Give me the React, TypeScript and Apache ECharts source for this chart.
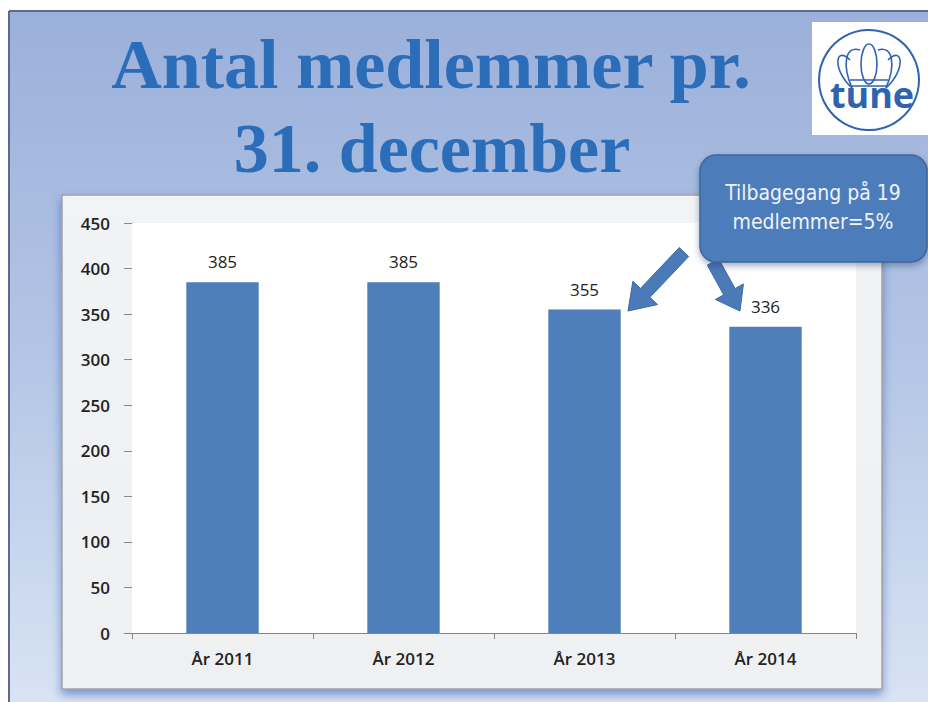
import React, { useEffect, useRef } from "react";
import * as echarts from "echarts";

const categories = ["År 2011", "År 2012", "År 2013", "År 2014"];
const members = [385, 385, 355, 336];
const yMin = 0;
const yMax = 450;
const yStep = 50;
const titleLines = ["Antal medlemmer pr.", "31. december"];
const calloutLines = ["Tilbagegang på 19", "medlemmer=5%"];

function arrowPoints(tx: number, ty: number, hx: number, hy: number, sw: number, hw: number, hl: number) {
  const dx = hx - tx, dy = hy - ty;
  const L = Math.sqrt(dx * dx + dy * dy);
  const ux = dx / L, uy = dy / L;
  const nx = -uy, ny = ux;
  const bx = hx - ux * hl, by = hy - uy * hl;
  return [
    [tx + nx * sw / 2, ty + ny * sw / 2],
    [bx + nx * sw / 2, by + ny * sw / 2],
    [bx + nx * hw / 2, by + ny * hw / 2],
    [hx, hy],
    [bx - nx * hw / 2, by - ny * hw / 2],
    [bx - nx * sw / 2, by - ny * sw / 2],
    [tx - nx * sw / 2, ty - ny * sw / 2],
  ];
}

export default function App() {
  const ref = useRef<HTMLDivElement>(null);
  useEffect(() => {
    document.body.style.margin = "0";
    const chart = echarts.init(ref.current!, undefined, { renderer: "svg" });
    const blue = "#2b6db8";
    const logoBlue = "#2f63b0";
    const axisFont = "'Open Sans', 'DejaVu Sans', sans-serif";
    const calloutFont = "'DejaVu Sans Condensed', 'DejaVu Sans', sans-serif";
    const titleFont = "bold 70px 'Liberation Serif', 'Times New Roman', serif";
    chart.setOption({
      animation: false,
      backgroundColor: "#ffffff",
      grid: {
        left: 132,
        right: 72,
        top: 223,
        bottom: 69,
        show: true,
        backgroundColor: "#ffffff",
        borderWidth: 0,
        z: 1,
      },
      xAxis: {
        type: "category",
        data: categories,
        axisLine: { lineStyle: { color: "#868686", width: 1 } },
        axisTick: { show: true, length: 6, lineStyle: { color: "#868686" } },
        axisLabel: { color: "#222222", fontSize: 17, fontWeight: 600, fontFamily: axisFont, margin: 17 },
      },
      yAxis: {
        type: "value",
        min: yMin,
        max: yMax,
        interval: yStep,
        axisLine: { show: true, lineStyle: { color: "#868686", width: 1 } },
        axisTick: { show: true, length: 8, lineStyle: { color: "#868686" } },
        splitLine: { lineStyle: { color: "#868686", width: 1 } },
        axisLabel: { color: "#222222", fontSize: 17, fontWeight: 600, fontFamily: axisFont, margin: 22 },
      },
      series: [
        {
          type: "bar",
          data: members,
          barWidth: "40%",
          itemStyle: { color: "#4f7fbb" },
          label: {
            show: true,
            position: "top",
            distance: 12,
            color: "#222222",
            fontSize: 17,
            fontFamily: axisFont,
          },
          z: 3,
        },
      ],
      graphic: [
        {
          type: "rect",
          z: -20,
          silent: true,
          shape: { x: 9, y: 11, width: 930, height: 700 },
          style: {
            fill: new echarts.graphic.LinearGradient(0, 0, 0, 1, [
              { offset: 0, color: "#9bb0da" },
              { offset: 0.5, color: "#b4c6e6" },
              { offset: 1, color: "#d9e4f4" },
            ]),
          },
        },
        { type: "line", z: -19, shape: { x1: 9, y1: 11, x2: 928, y2: 11 }, style: { stroke: "#5d6b88", lineWidth: 2 } },
        { type: "line", z: -19, shape: { x1: 9, y1: 11, x2: 9, y2: 702 }, style: { stroke: "#5d6b88", lineWidth: 2 } },
        {
          type: "rect",
          z: -15,
          shape: { x: 62, y: 195, width: 820, height: 494 },
          style: {
            fill: new echarts.graphic.LinearGradient(0, 0, 0, 1, [
              { offset: 0, color: "#f2f3f5" },
              { offset: 1, color: "#eef0f2" },
            ]),
            stroke: "#a3a3a3",
            lineWidth: 1.5,
            shadowBlur: 10,
            shadowOffsetY: 5,
            shadowColor: "rgba(40,80,170,0.55)",
          },
        },
        {
          type: "text",
          z: 10,
          style: {
            text: titleLines[0],
            x: 431,
            y: 64,
            align: "center",
            verticalAlign: "middle",
            fill: blue,
            font: titleFont,
          },
        },
        {
          type: "text",
          z: 10,
          style: {
            text: titleLines[1],
            x: 432,
            y: 148,
            align: "center",
            verticalAlign: "middle",
            fill: blue,
            font: titleFont,
          },
        },
        // logo
        {
          type: "group",
          z: 10,
          children: [
            { type: "rect", shape: { x: 812, y: 22, width: 120, height: 113 }, style: { fill: "#ffffff" } },
            { type: "circle", shape: { cx: 869, cy: 80, r: 50 }, style: { fill: "none", stroke: logoBlue, lineWidth: 2 } },
            { type: "bezierCurve", shape: { x1: 852, y1: 88, x2: 850, y2: 60, cpx1: 832, cpy1: 70, cpx2: 835, cpy2: 45 }, style: { stroke: logoBlue, lineWidth: 1.6, fill: "none" } },
            { type: "bezierCurve", shape: { x1: 852, y1: 88, x2: 860, y2: 50, cpx1: 842, cpy1: 65, cpx2: 845, cpy2: 45 }, style: { stroke: logoBlue, lineWidth: 1.6, fill: "none" } },
            { type: "ellipse", shape: { cx: 869, cy: 64, rx: 8, ry: 20 }, style: { stroke: logoBlue, lineWidth: 1.6, fill: "none" } },
            { type: "bezierCurve", shape: { x1: 886, y1: 88, x2: 888, y2: 60, cpx1: 906, cpy1: 70, cpx2: 903, cpy2: 45 }, style: { stroke: logoBlue, lineWidth: 1.6, fill: "none" } },
            { type: "bezierCurve", shape: { x1: 886, y1: 88, x2: 878, y2: 50, cpx1: 896, cpy1: 65, cpx2: 893, cpy2: 45 }, style: { stroke: logoBlue, lineWidth: 1.6, fill: "none" } },
            { type: "line", shape: { x1: 850, y1: 80, x2: 888, y2: 80 }, style: { stroke: logoBlue, lineWidth: 1.4 } },
            { type: "line", shape: { x1: 852, y1: 86, x2: 886, y2: 86 }, style: { stroke: logoBlue, lineWidth: 1.4 } },
            {
              type: "text",
              style: {
                text: "tune",
                x: 872,
                y: 94,
                align: "center",
                verticalAlign: "middle",
                fill: logoBlue,
                font: "bold 36px 'Open Sans', sans-serif",
              },
            },
          ],
        },
        // arrows
        {
          type: "polygon",
          z: 20,
          shape: { points: arrowPoints(684, 252, 628, 311, 13, 34, 25) },
          style: { fill: "#4a7ab8", stroke: "#3d6aa3", lineWidth: 1 },
        },
        {
          type: "polygon",
          z: 20,
          shape: { points: arrowPoints(713, 262, 740, 311, 13, 32, 22) },
          style: { fill: "#4a7ab8", stroke: "#3d6aa3", lineWidth: 1 },
        },
        // callout
        {
          type: "rect",
          z: 21,
          shape: { x: 700, y: 155, width: 227, height: 107, r: 16 },
          style: {
            fill: "#4d7cba",
            stroke: "#3c679e",
            lineWidth: 1.5,
            shadowBlur: 6,
            shadowOffsetY: 3,
            shadowColor: "rgba(30,50,90,0.4)",
          },
        },
        {
          type: "text",
          z: 22,
          style: {
            text: calloutLines[0],
            x: 813,
            y: 193,
            align: "center",
            verticalAlign: "middle",
            fill: "#eef3fa",
            font: "21px " + calloutFont,
          },
        },
        {
          type: "text",
          z: 22,
          style: {
            text: calloutLines[1],
            x: 813,
            y: 222,
            align: "center",
            verticalAlign: "middle",
            fill: "#eef3fa",
            font: "21px " + calloutFont,
          },
        },
      ],
    });
    return () => chart.dispose();
  }, []);
  return <div ref={ref} style={{ width: 928, height: 702 }} />;
}
